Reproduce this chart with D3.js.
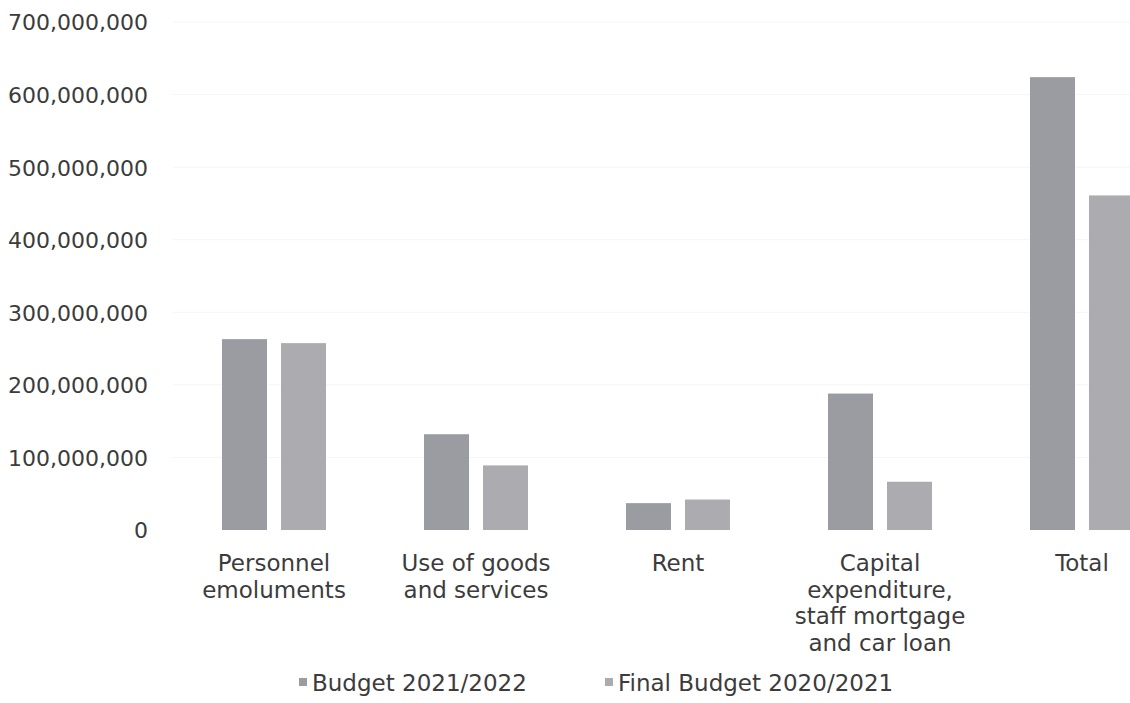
<!DOCTYPE html>
<html>
<head>
<meta charset="utf-8">
<script src="https://cdn.jsdelivr.net/npm/d3@7"></script>
<style>
  html, body { margin: 0; padding: 0; background: #ffffff; }
  svg { display: block; }
</style>
</head>
<body>
<svg id="chart" width="1130" height="703" font-family="DejaVu Sans, Verdana, sans-serif"></svg>
<script>
// Expenditure by economic classification, two budget years
const categories = [
  "Personnel emoluments",
  "Use of goods and services",
  "Rent",
  "Capital expenditure, staff mortgage and car loan",
  "Total"
];
const seriesNames = ["Budget 2021/2022", "Final Budget 2020/2021"];
const budget2122 = [263000000, 132000000, 37000000, 188000000, 624000000];
const final2021 = [257500000, 89000000, 42000000, 66500000, 461000000];
const yTicks = [0, 100000000, 200000000, 300000000, 400000000, 500000000, 600000000, 700000000];

const seriesColors = ["#9b9ca1", "#acacb0"];
const textColor = "#3c3c3c";
const fontFamily = "DejaVu Sans, Verdana, sans-serif";

const svg = d3.select("#chart");
const W = 1130, H = 703;

const plot = { left: 173, right: 1183, top: 22, bottom: 530 };

const y = d3.scaleLinear().domain([0, 700000000]).range([plot.bottom, plot.top]);

const x0 = d3.scaleBand()
  .domain(categories)
  .range([plot.left, plot.right])
  .paddingInner(0.485)
  .paddingOuter(0.2425);

const x1 = d3.scaleBand()
  .domain(seriesNames)
  .range([0, x0.bandwidth()])
  .paddingInner(0.237);

const color = d3.scaleOrdinal().domain(seriesNames).range(seriesColors);

// faint horizontal gridlines
svg.append("g")
  .selectAll("line")
  .data(yTicks.slice(1))
  .join("line")
  .attr("x1", plot.left)
  .attr("x2", W)
  .attr("y1", d => y(d))
  .attr("y2", d => y(d))
  .attr("stroke", "#f5f5f5")
  .attr("stroke-width", 1);

// y axis labels
const yAxis = d3.axisLeft(y)
  .tickValues(yTicks)
  .tickFormat(d3.format(","))
  .tickSize(0)
  .tickPadding(0);

const yG = svg.append("g")
  .attr("transform", "translate(148,0)")
  .call(yAxis)
  .attr("font-family", fontFamily)
  .attr("font-size", 22);
yG.select(".domain").remove();
yG.selectAll("text")
  .attr("fill", textColor)
  .attr("dy", "0.36em");

// bars
const rows = categories.map((c, i) => ({
  category: c,
  values: [
    { series: seriesNames[0], value: budget2122[i] },
    { series: seriesNames[1], value: final2021[i] }
  ]
}));

svg.append("g")
  .selectAll("g")
  .data(rows)
  .join("g")
  .attr("transform", d => `translate(${x0(d.category)},0)`)
  .selectAll("rect")
  .data(d => d.values)
  .join("rect")
  .attr("x", d => x1(d.series))
  .attr("width", x1.bandwidth())
  .attr("y", d => y(d.value))
  .attr("height", d => y(0) - y(d.value))
  .attr("fill", d => color(d.series));

// category labels, wrapped to a fixed width
const xAxis = d3.axisBottom(x0).tickSize(0).tickPadding(0);
const xG = svg.append("g")
  .attr("transform", `translate(0,${plot.bottom})`)
  .call(xAxis)
  .attr("font-family", fontFamily)
  .attr("font-size", 23);
xG.select(".domain").remove();

function wrap(textSel, width, lineHeight) {
  textSel.each(function () {
    const text = d3.select(this);
    const words = text.text().split(/\s+/);
    text.text(null);
    let line = [];
    let lineNo = 0;
    let tspan = text.append("tspan").attr("x", 0).attr("y", 0);
    for (const w of words) {
      line.push(w);
      tspan.text(line.join(" "));
      if (tspan.node().getComputedTextLength() > width && line.length > 1) {
        line.pop();
        tspan.text(line.join(" "));
        line = [w];
        lineNo++;
        tspan = text.append("tspan").attr("x", 0).attr("y", lineNo * lineHeight).text(w);
      }
    }
  });
}

xG.selectAll("text")
  .attr("fill", textColor)
  .attr("dy", null)
  .attr("y", 0)
  .attr("transform", "translate(0,41)")
  .call(wrap, 196, 26.5);

// legend
const legend = svg.append("g")
  .attr("transform", "translate(0,691)")
  .attr("font-family", fontFamily)
  .attr("font-size", 23);
const legendX = [299, 605];
const items = legend.selectAll("g")
  .data(seriesNames)
  .join("g")
  .attr("transform", (d, i) => `translate(${legendX[i]},0)`);
items.append("rect")
  .attr("x", 0)
  .attr("y", -13)
  .attr("width", 8)
  .attr("height", 8)
  .attr("fill", d => color(d));
items.append("text")
  .attr("x", 13)
  .attr("y", 0)
  .attr("fill", textColor)
  .text(d => d);
</script>
</body>
</html>
